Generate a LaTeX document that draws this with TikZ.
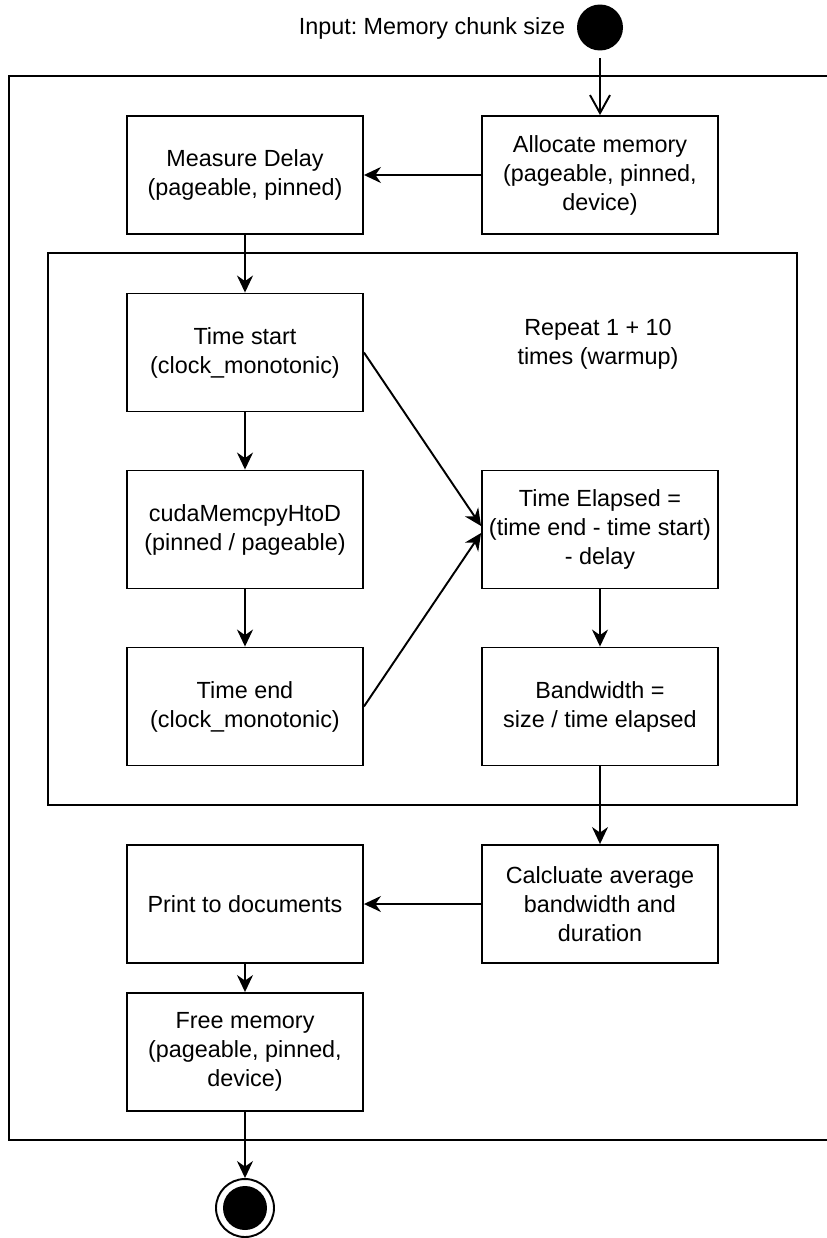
\documentclass[tikz,border=0pt]{standalone}
\usepackage{fontspec}
\setmainfont{Liberation Sans}
\usetikzlibrary{arrows.meta}
\frenchspacing
\begin{document}
\begin{tikzpicture}[x=0.02cm,y=-0.02cm,line width=1.1pt,
        every node/.style={font=\fontsize{13.3}{16.5}\selectfont},
        box/.style={draw,rectangle,minimum width=4.72cm,minimum height=2.36cm,align=center,inner sep=0pt}]
        \tikzset{edge/.style = {-{Stealth[length=3.4mm,width=3.2mm]}}}
        \tikzset{open edge/.style = {-{Straight Barb[length=3.6mm,width=4mm]}}}
        \useasboundingbox (0,0) rectangle (826,1238);

        % frames
        \draw (830,76) -- (9,76) -- (9,1140) -- (830,1140);
        \draw (48,253) rectangle (797,805);

        \node (S) at (600,27.5) [circle,fill,minimum size=0.92cm,inner sep=0pt] {};
        \node (I) at (566,28) [anchor=east,inner sep=0pt] {Input: Memory chunk size};
        \node[box] (A) at (600,175) {Allocate memory\\(pageable, pinned,\\device)};
        \node[box] (M) at (245,175) {Measure Delay\\(pageable, pinned)};
        \node[box] (T) at (245,352.5) {Time start\\(clock\_monotonic)};
        \node[box] (C) at (245,529.5) {cudaMemcpyHtoD\\(pinned / pageable)};
        \node[box] (N) at (245,706.5) {Time end\\(clock\_monotonic)};
        \node (R) at (598,344) [align=center] {Repeat 1 + 10\\times (warmup)};
        \node[box] (E) at (600,529.5) {Time Elapsed =\\(time end - time start)\\- delay};
        \node[box] (B) at (600,706.5) {Bandwidth =\\size / time elapsed};
        \node[box] (V) at (600,904) {Calcluate average\\bandwidth and\\duration};
        \node[box] (P) at (245,904) {Print to documents};
        \node[box] (F) at (245,1052) {Free memory\\(pageable, pinned,\\device)};
        \node (Z) at (245,1208) [circle,draw,minimum size=1.16cm,inner sep=0pt] {};
        \node (Zin) at (245,1208) [circle,fill,minimum size=0.88cm,inner sep=0pt] {};

        \draw[open edge,shorten <=0.14cm] (S) -- (A);
        \draw[edge] (A) -- (M);
        \draw[edge] (M) -- (T);
        \draw[edge] (T) -- (C);
        \draw[edge] (C) -- (N);
        \draw[edge] (T.east) -- ([yshift=2pt]E.west);
        \draw[edge] (N.east) -- ([yshift=-2pt]E.west);
        \draw[edge] (E) -- (B);
        \draw[edge] (B) -- (V);
        \draw[edge] (V) -- (P);
        \draw[edge] (P) -- (F);
        \draw[edge] (F) -- (Z);
\end{tikzpicture}
\end{document}
